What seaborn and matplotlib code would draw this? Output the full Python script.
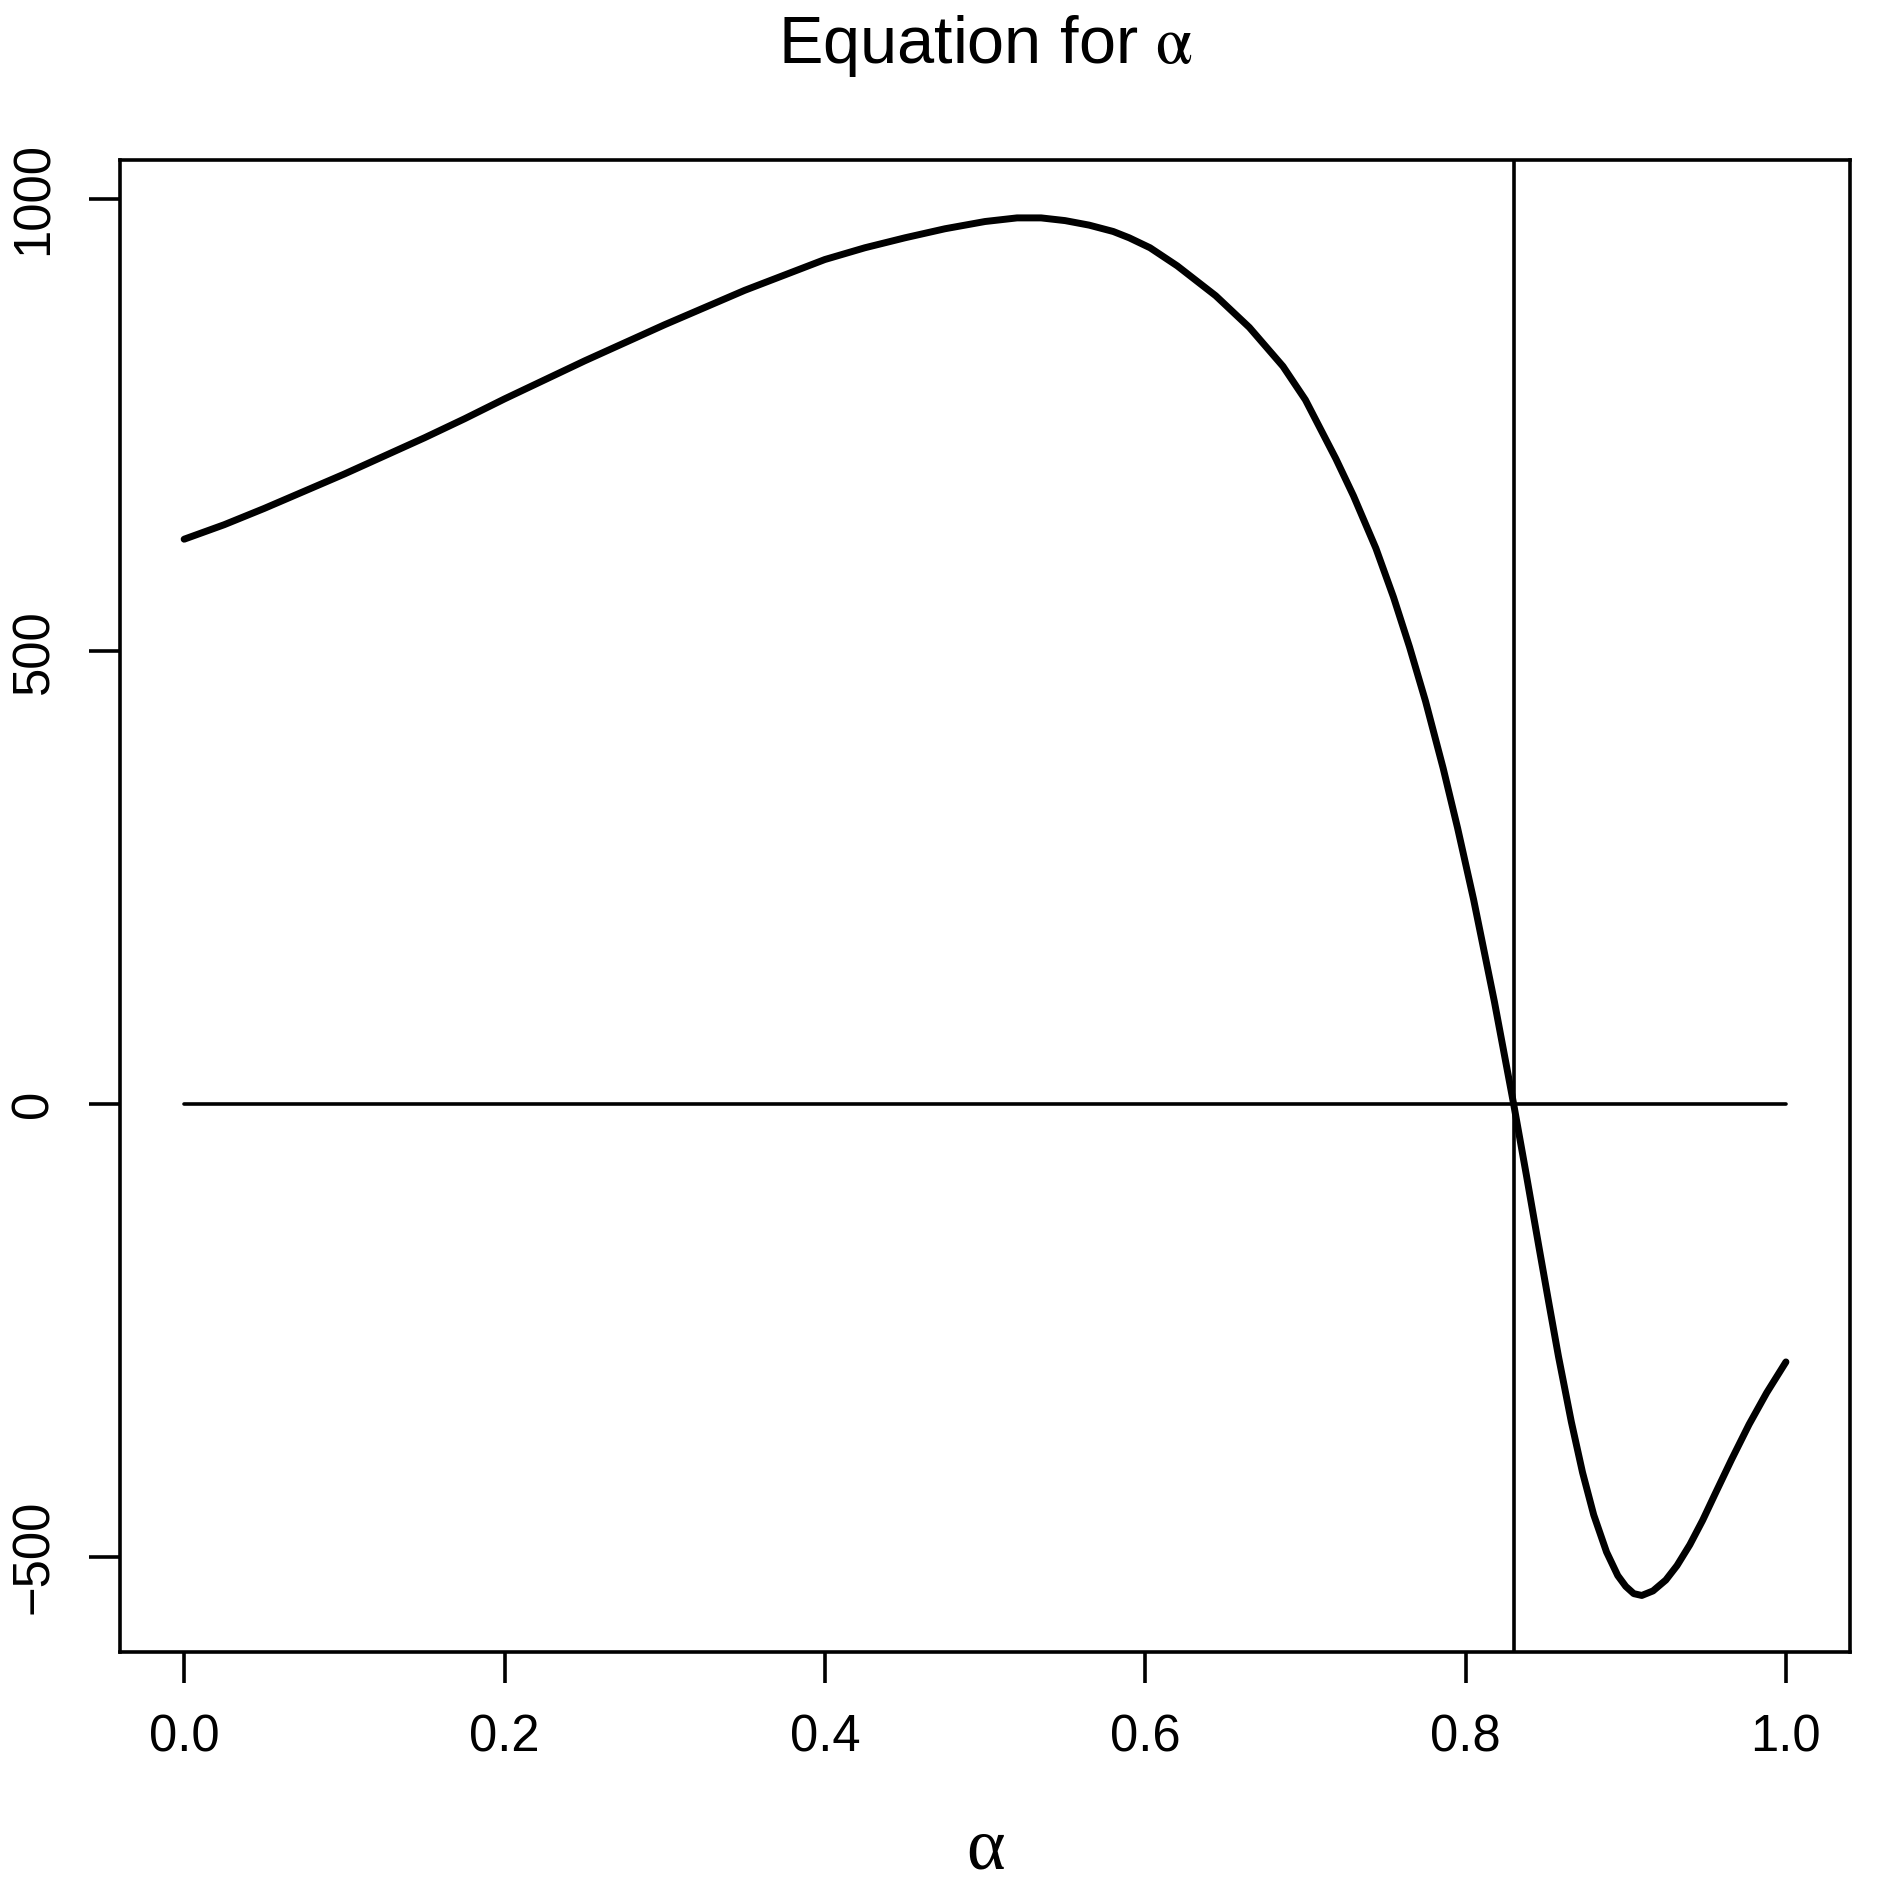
import numpy as np
import pandas as pd
import seaborn as sns
import matplotlib
matplotlib.use("Agg")
import matplotlib.pyplot as plt

# values
alpha = [0.0, 0.025, 0.05, 0.075, 0.1, 0.125, 0.15, 0.175, 0.2, 0.225, 0.25,
         0.275, 0.3, 0.325, 0.35, 0.375, 0.4, 0.425, 0.45, 0.475, 0.5, 0.51,
         0.52, 0.535, 0.55, 0.565, 0.58, 0.59, 0.603, 0.62, 0.644, 0.665,
         0.686, 0.70, 0.719, 0.73, 0.744, 0.755, 0.765, 0.775, 0.786, 0.795,
         0.805, 0.818, 0.830, 0.838, 0.846, 0.852, 0.858, 0.866, 0.873, 0.880,
         0.888, 0.895, 0.900, 0.905, 0.910, 0.917, 0.925, 0.932, 0.940, 0.948,
         0.956, 0.966, 0.977, 0.988, 1.0]
eq_value = [624, 640, 658, 677, 696, 716, 736, 757, 779, 800, 821,
            841, 861, 880, 899, 916, 933, 946, 957, 967, 975, 977,
            979, 979, 976, 971, 964, 957, 946, 926, 893, 858,
            815, 778, 713, 672, 614, 560, 505, 445, 371, 305,
            226, 113, 0, -79, -160, -220, -279, -351, -407, -454,
            -495, -521, -533, -541, -543, -538, -526, -510, -487, -460,
            -430, -393, -354, -319, -285]
root = 0.830

x_ticks = [0.0, 0.2, 0.4, 0.6, 0.8, 1.0]
x_tick_labels = ["0.0", "0.2", "0.4", "0.6", "0.8", "1.0"]
y_ticks = [-500, 0, 500, 1000]
y_tick_labels = ["-500", "0", "500", "1000"]

df = pd.DataFrame({"alpha": alpha, "value": eq_value})

sns.set_theme(style="white")
plt.rcParams["font.family"] = ["Liberation Sans", "DejaVu Sans"]
plt.rcParams["mathtext.fontset"] = "stix"

fig = plt.figure(figsize=(18.82, 18.82), dpi=100)
ax = fig.add_axes([0.0638, 0.1222, 0.9192, 0.7928])

sns.lineplot(data=df, x="alpha", y="value", ax=ax, color="black",
             linewidth=5.0, sort=True, estimator=None)

# zero line across the data range, vertical line at the root
ax.plot([alpha[0], alpha[-1]], [0, 0], color="black", linewidth=2.6)
ax.axvline(root, color="black", linewidth=2.6)

ax.set_xlim(-0.04, 1.04)
ax.set_ylim(-605.5, 1043)
ax.set_xticks(x_ticks)
ax.set_xticklabels(x_tick_labels)
ax.set_yticks(y_ticks)
ax.set_yticklabels([t.replace("-", "\u2212") for t in y_tick_labels],
                   rotation=90, va="center")

for s in ax.spines.values():
    s.set_visible(True)
    s.set_color("black")
    s.set_linewidth(2.6)

ax.tick_params(axis="both", direction="out", length=22, width=2.6,
               color="black", labelsize=36.5, pad=22, labelcolor="black",
               bottom=True, left=True)

ax.set_xlabel("")
ax.set_ylabel("")
ax.set_title(r"Equation for $\mathrm{\alpha}$", fontsize=48, pad=70,
             color="black")

# x axis label, kept inside the canvas
fig.text(0.0638 + 0.9192 / 2, 0.0074, "\u03b1", family="Liberation Serif",
         fontsize=53, ha="center", va="baseline", color="black")

fig.savefig("out.png", dpi=100, facecolor="white")
